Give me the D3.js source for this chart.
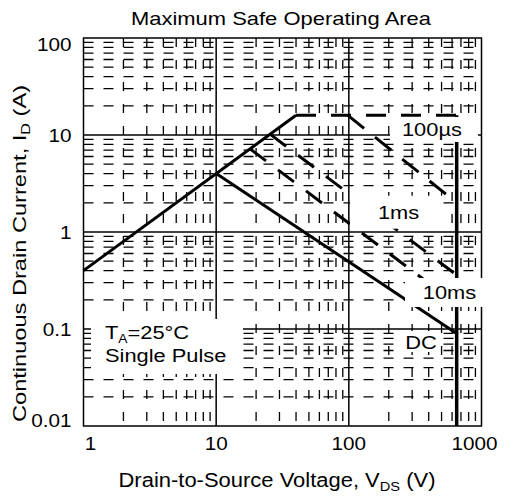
<!DOCTYPE html>
<html>
<head>
<meta charset="utf-8">
<script src="https://cdn.jsdelivr.net/npm/d3@7"></script>
<style>
  body { margin: 0; background: #fff; }
  text { font-family: Arial, "Liberation Sans", Helvetica, sans-serif; fill: #000; }
</style>
</head>
<body>
<div id="chart"></div>
<script>
// axis ticks
var xTicks = [1, 10, 100, 1000];
var xTickLabels = ["1", "10", "100", "1000"];
var yTicks = [0.01, 0.1, 1, 10, 100];
var yTickLabels = ["0.01", "0.1", "1", "10", "100"];

// SOA boundaries, [V, A]
var rdsLimit = [[1, 0.4], [40, 16]];
var idmLimit = [[40, 16], [650, 16]];
var vdsLimit = [[650, 16], [650, 0.01]];
var curve100us = [[98, 16], [650, 2.0]];
var curve1ms = [[25.5, 10.2], [650, 0.36]];
var curve10ms = [[18, 7.2], [650, 0.18]];
var curveDC = [[10, 4], [650, 0.09]];

var curveNames = ["100µs", "1ms", "10ms", "DC"];

var width = 505,
    height = 496,
    margin = {top: 38, right: 23.5, bottom: 70, left: 83.5};

var svg = d3.select("#chart").append("svg")
  .attr("width", width)
  .attr("height", height);

var x = d3.scaleLog()
  .domain([1, 1000])
  .range([margin.left, width - margin.right]);

var y = d3.scaleLog()
  .domain([0.01, 100])
  .range([height - margin.bottom, margin.top]);

var x0 = x.range()[0], x1 = x.range()[1],
    y0 = y.range()[1], y1 = y.range()[0];

function isDecade(v) {
  var l = Math.log10(v);
  return Math.abs(l - Math.round(l)) < 1e-9;
}

// minor grid (dashed)
var grid = svg.append("g");
grid.selectAll(".hminor")
  .data(y.ticks().filter(function(d){ return !isDecade(d); }))
  .enter().append("line")
  .attr("x1", x0).attr("x2", x1)
  .attr("y1", function(d){ return y(d); })
  .attr("y2", function(d){ return y(d); })
  .style("stroke", "#000")
  .style("stroke-width", 1.3)
  .style("stroke-dasharray", "10,10");

grid.selectAll(".vminor")
  .data(x.ticks().filter(function(d){ return !isDecade(d); }))
  .enter().append("line")
  .attr("y1", y0).attr("y2", y1)
  .attr("x1", function(d){ return x(d); })
  .attr("x2", function(d){ return x(d); })
  .style("stroke", "#000")
  .style("stroke-width", 1.3)
  .style("stroke-dasharray", "9,13");

// decade grid (solid)
grid.selectAll(".hmajor")
  .data(yTicks.slice(1, -1))
  .enter().append("line")
  .attr("x1", x0).attr("x2", x1)
  .attr("y1", function(d){ return y(d); })
  .attr("y2", function(d){ return y(d); })
  .style("stroke", "#000")
  .style("stroke-width", 1.5);

grid.selectAll(".vmajor")
  .data(xTicks.slice(1, -1))
  .enter().append("line")
  .attr("y1", y0).attr("y2", y1)
  .attr("x1", function(d){ return x(d); })
  .attr("x2", function(d){ return x(d); })
  .style("stroke", "#000")
  .style("stroke-width", 1.5);

svg.append("rect")
  .attr("x", x0).attr("y", y0)
  .attr("width", x1 - x0).attr("height", y1 - y0)
  .style("fill", "none")
  .style("stroke", "#000")
  .style("stroke-width", 1.5);

// curves
var line = d3.line()
  .x(function(d){ return x(d[0]); })
  .y(function(d){ return y(d[1]); });

var curves = [
  {pts: rdsLimit, dash: null, w: 3},
  {pts: curveDC, dash: null, w: 3},
  {pts: idmLimit, dash: "20,15", w: 3},
  {pts: curve100us, dash: "21,14", w: 3},
  {pts: curve1ms, dash: "20,15", w: 3},
  {pts: curve10ms, dash: "20,15", w: 3},
  {pts: vdsLimit, dash: null, w: 3.5}
];

svg.append("g").selectAll("path")
  .data(curves)
  .enter().append("path")
  .attr("d", function(d){ return line(d.pts); })
  .style("fill", "none")
  .style("stroke", "#000")
  .style("stroke-width", function(d){ return d.w; })
  .style("stroke-dasharray", function(d){ return d.dash; });

// label boxes, centred at a point in data space
var boxes = [
  {text: curveNames[0], v: 438, a: 11.4, w: 88, h: 25, dx: -2},
  {text: curveNames[1], v: 229, a: 1.6, w: 93, h: 33, dx: 2},
  {text: curveNames[2], v: 526, a: 0.238, w: 79, h: 29, dx: 5},
  {text: curveNames[3], v: 338, a: 0.0743, w: 42, h: 21, dx: 2}
];

var sx = 1.15;
var labels = svg.append("g");
boxes.forEach(function(b) {
  var cx = x(b.v), cy = y(b.a);
  labels.append("rect")
    .attr("x", cx - b.w / 2).attr("y", cy - b.h / 2)
    .attr("width", b.w).attr("height", b.h)
    .style("fill", "#fff");
  labels.append("text")
    .attr("transform", "translate(" + (cx + b.dx) + "," + (cy + 7) + ") scale(" + sx + ",1)")
    .attr("text-anchor", "middle")
    .style("font-size", "19px")
    .text(b.text);
});

// TA / single pulse note
var nx = x(4.26), ny = y(0.066);
labels.append("rect")
  .attr("x", nx - 76).attr("y", ny - 27.5)
  .attr("width", 152).attr("height", 55)
  .style("fill", "#fff");
var ta = labels.append("text")
  .attr("transform", "translate(" + (nx - 62) + "," + (ny - 8) + ") scale(" + sx + ",1)")
  .style("font-size", "19px");
ta.append("tspan").text("T");
ta.append("tspan").attr("dy", 4).style("font-size", "12px").text("A");
ta.append("tspan").attr("dy", -4).text("=25°C");
labels.append("text")
  .attr("transform", "translate(" + (nx - 62) + "," + (ny + 15) + ") scale(" + sx + ",1)")
  .style("font-size", "19px")
  .text("Single Pulse");

// tick labels
function clamp(v, lo, hi) { return Math.max(lo, Math.min(hi, v)); }

svg.append("g").selectAll("text")
  .data(xTicks)
  .enter().append("text")
  .attr("transform", function(d){
    return "translate(" + clamp(x(d), x0 + 7, x1 - 7) + "," + (y1 + 24) + ") scale(" + 1.12 + ",1)";
  })
  .attr("text-anchor", "middle")
  .style("font-size", "18.5px")
  .text(function(d, i){ return xTickLabels[i]; });

svg.append("g").selectAll("text")
  .data(yTicks)
  .enter().append("text")
  .attr("transform", function(d){
    return "translate(" + (x0 - 12) + "," + (clamp(y(d), y0 + 6, y1 - 6) + 6.7) + ") scale(" + 1.12 + ",1)";
  })
  .attr("text-anchor", "end")
  .style("font-size", "18.5px")
  .text(function(d, i){ return yTickLabels[i]; });

// titles
svg.append("text")
  .attr("x", 281).attr("y", 25)
  .attr("text-anchor", "middle")
  .attr("textLength", 300)
  .attr("lengthAdjust", "spacingAndGlyphs")
  .style("font-size", "18.5px")
  .text("Maximum Safe Operating Area");

var xl = svg.append("text")
  .attr("x", 277).attr("y", 486.5)
  .attr("text-anchor", "middle")
  .attr("textLength", 317)
  .attr("lengthAdjust", "spacingAndGlyphs")
  .style("font-size", "19.5px");
xl.append("tspan").text("Drain-to-Source Voltage, V");
xl.append("tspan").attr("dy", 4).style("font-size", "13px").text("DS");
xl.append("tspan").attr("dy", -4).text(" (V)");

var yl = svg.append("text")
  .attr("transform", "translate(26,253.5) rotate(-90)")
  .attr("text-anchor", "middle")
  .attr("textLength", 337)
  .attr("lengthAdjust", "spacingAndGlyphs")
  .style("font-size", "19px");
yl.append("tspan").text("Continuous Drain Current, I");
yl.append("tspan").attr("dy", 4).style("font-size", "13px").text("D");
yl.append("tspan").attr("dy", -4).text(" (A)");
</script>
</body>
</html>
